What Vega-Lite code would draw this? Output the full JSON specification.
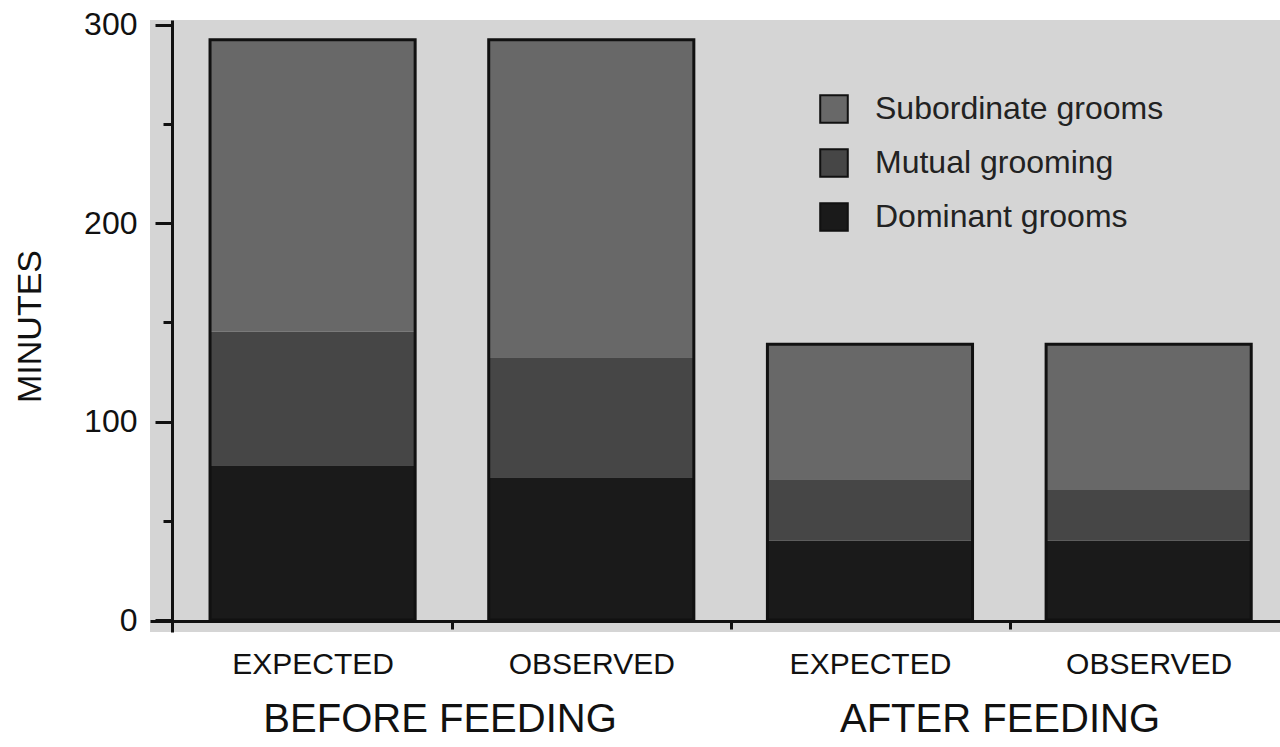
{
  "$schema": "https://vega.github.io/schema/vega-lite/v6.json",
  "autosize": "none",
  "width": 1130,
  "height": 612,
  "padding": {"left": 150, "top": 20, "right": 0, "bottom": 115},
  "background": "white",
  "config": {
    "view": {"fill": "#d5d5d5", "stroke": null},
    "font": "Liberation Sans",
    "axis": {"labelColor": "#111", "titleColor": "#111", "domainColor": "#111", "tickColor": "#111", "grid": false, "labelFont": "Liberation Sans", "titleFont": "Liberation Sans", "labelLimit": 0},
    "legend": {"labelFont": "Liberation Sans", "labelLimit": 0}
  },
  "data": {
    "values": [
      {"bar": "BEFORE FEEDING|EXPECTED", "group": "BEFORE FEEDING", "series": "Dominant grooms", "ord": 1, "minutes": 78},
      {"bar": "BEFORE FEEDING|EXPECTED", "group": "BEFORE FEEDING", "series": "Mutual grooming", "ord": 2, "minutes": 67.5},
      {"bar": "BEFORE FEEDING|EXPECTED", "group": "BEFORE FEEDING", "series": "Subordinate grooms", "ord": 3, "minutes": 147},
      {"bar": "BEFORE FEEDING|OBSERVED", "group": "BEFORE FEEDING", "series": "Dominant grooms", "ord": 1, "minutes": 72},
      {"bar": "BEFORE FEEDING|OBSERVED", "group": "BEFORE FEEDING", "series": "Mutual grooming", "ord": 2, "minutes": 60.5},
      {"bar": "BEFORE FEEDING|OBSERVED", "group": "BEFORE FEEDING", "series": "Subordinate grooms", "ord": 3, "minutes": 160},
      {"bar": "AFTER FEEDING|EXPECTED", "group": "AFTER FEEDING", "series": "Dominant grooms", "ord": 1, "minutes": 40},
      {"bar": "AFTER FEEDING|EXPECTED", "group": "AFTER FEEDING", "series": "Mutual grooming", "ord": 2, "minutes": 31},
      {"bar": "AFTER FEEDING|EXPECTED", "group": "AFTER FEEDING", "series": "Subordinate grooms", "ord": 3, "minutes": 68},
      {"bar": "AFTER FEEDING|OBSERVED", "group": "AFTER FEEDING", "series": "Dominant grooms", "ord": 1, "minutes": 40},
      {"bar": "AFTER FEEDING|OBSERVED", "group": "AFTER FEEDING", "series": "Mutual grooming", "ord": 2, "minutes": 25.5},
      {"bar": "AFTER FEEDING|OBSERVED", "group": "AFTER FEEDING", "series": "Subordinate grooms", "ord": 3, "minutes": 73.5}
    ]
  },
  "layer": [
    {
      "layer": [
        {
          "mark": {"type": "bar"},
          "encoding": {
            "x": {
              "field": "bar", "type": "nominal", "sort": null,
              "scale": {"paddingInner": 0.264, "paddingOuter": 0.1593, "align": 0.676},
              "axis": {"title": null, "orient": "bottom", "offset": -11, "bandPosition": 1, "tickExtra": false, "tickOffset": 37, "labelOffset": -37, "tickSize": 8, "tickWidth": 3, "domainWidth": 3, "labelAngle": 0, "labelFontSize": 30, "labelPadding": 20, "labelExpr": "split(datum.value, '|')[1]"}
            },
            "y": {
              "field": "minutes", "type": "quantitative", "stack": "zero", "title": "MINUTES",
              "scale": {"domain": [-6.05, 302.5], "nice": false, "zero": false},
              "axis": {"title": "MINUTES", "offset": -22, "values": [0, 50, 100, 150, 200, 250, 300], "labelExpr": "datum.value % 100 === 0 ? datum.label : ''", "tickSize": {"condition": {"test": "datum.value % 100 === 0", "value": 17}, "value": 9}, "tickWidth": 3, "domainWidth": 3, "labelFontSize": 32, "labelPadding": 18, "titleFontSize": 34, "titleFontWeight": "normal", "titlePadding": 36, "labelFlush": false, "labelOverlap": false}
            },
            "color": {
              "field": "series", "type": "nominal",
              "scale": {"domain": ["Subordinate grooms", "Mutual grooming", "Dominant grooms"], "range": ["#686868", "#464646", "#1a1a1a"]},
              "legend": {"title": null, "orient": "none", "legendX": 668, "legendY": 73, "symbolType": "square", "symbolSize": 760, "symbolStrokeColor": "#111", "symbolStrokeWidth": 2, "symbolOpacity": 1, "labelFontSize": 32, "labelOffset": 25, "rowPadding": 18, "padding": 0, "labelColor": "#222", "labelLimit": 0}
            },
            "order": {"field": "ord", "type": "quantitative"}
          }
        },
        {
          "mark": {"type": "bar", "fill": "transparent", "stroke": "#111", "strokeWidth": 3},
          "encoding": {
            "x": {"field": "bar", "type": "nominal", "sort": null},
            "y": {"aggregate": "sum", "field": "minutes", "type": "quantitative", "title": "MINUTES"}
          }
        }
      ]
    },
    {
      "mark": {"type": "text", "text": ""},
      "encoding": {
        "x": {
          "field": "group", "type": "nominal", "sort": null,
          "scale": {"type": "band", "paddingInner": 0, "paddingOuter": 0.009, "align": 1},
          "axis": {"title": null, "orient": "bottom", "offset": 0, "domain": false, "ticks": false, "tickSize": 0, "labelAngle": 0, "labelFontSize": 40, "labelPadding": 67, "labelColor": "#111", "labelLimit": 0}
        }
      }
    }
  ],
  "resolve": {"scale": {"x": "independent"}}
}
